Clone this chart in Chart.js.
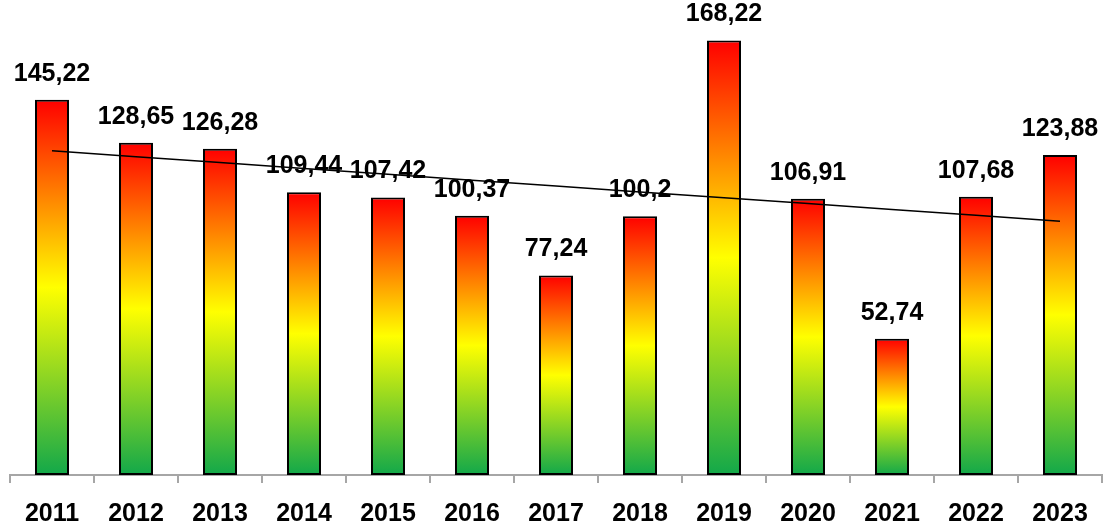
<!DOCTYPE html>
<html>
<head>
<meta charset="utf-8">
<script src="https://cdn.jsdelivr.net/npm/chart.js@4/dist/chart.umd.min.js"></script>
<style>
  html, body { margin: 0; padding: 0; background: #fff; }
</style>
</head>
<body>
<canvas id="chart" width="1110" height="525"></canvas>
<script>
// data
const years = ['2011', '2012', '2013', '2014', '2015', '2016', '2017', '2018', '2019', '2020', '2021', '2022', '2023'];
const values = [145.22, 128.65, 126.28, 109.44, 107.42, 100.37, 77.24, 100.2, 168.22, 106.91, 52.74, 107.68, 123.88];

// linear trend (least squares), like the spreadsheet trendline
function linearTrend(ys) {
    const n = ys.length;
    const mx = (n - 1) / 2;
    const my = ys.reduce((a, b) => a + b, 0) / n;
    let sxy = 0, sxx = 0;
    ys.forEach((y, i) => { sxy += (i - mx) * (y - my); sxx += (i - mx) * (i - mx); });
    const k = sxy / sxx;
    return ys.map((_, i) => my + k * (i - mx));
}
const trend = linearTrend(values);

const FONT = 'bold 25px "Liberation Sans", Arial, sans-serif';

function barGradient(context) {
    const chart = context.chart;
    if (!chart.chartArea) return '#ff0000';
    const y = chart.scales.y;
    const top = y.getPixelForValue(values[context.dataIndex]);
    const bottom = y.getPixelForValue(0);
    const g = chart.ctx.createLinearGradient(0, bottom, 0, top);
    g.addColorStop(0, '#12a84a');
    g.addColorStop(0.5, '#ffff00');
    g.addColorStop(1, '#ff0000');
    return g;
}

const valueLabels = {
    id: 'valueLabels',
    afterDatasetsDraw(chart) {
        const ctx = chart.ctx;
        const meta = chart.getDatasetMeta(0);
        ctx.save();
        ctx.font = FONT;
        ctx.fillStyle = '#000';
        ctx.textAlign = 'center';
        ctx.textBaseline = 'alphabetic';
        meta.data.forEach((bar, i) => {
            const txt = String(values[i]).replace('.', ',');
            ctx.fillText(txt, bar.x, bar.y - 19);
        });
        ctx.restore();
    }
};

new Chart(document.getElementById('chart'), {
    data: {
        labels: years,
        datasets: [
            {
                type: 'bar',
                data: values,
                backgroundColor: barGradient,
                borderColor: '#000',
                borderWidth: 2,
                borderSkipped: false,
                barPercentage: 0.405,
                categoryPercentage: 1,
                order: 2
            },
            {
                type: 'line',
                data: trend,
                borderColor: '#000',
                borderWidth: 1.5,
                pointRadius: 0,
                fill: false,
                tension: 0,
                order: 1
            }
        ]
    },
    options: {
        responsive: false,
        animation: false,
        layout: { padding: { top: 10, left: 10, right: 8, bottom: 0 } },
        plugins: { legend: { display: false }, tooltip: { enabled: false } },
        scales: {
            x: {
                offset: true,
                afterFit(scale) { scale.height = 50; },
                grid: { offset: true, drawOnChartArea: false, drawTicks: true, tickLength: 8, color: '#a6a6a6', lineWidth: 2 },
                border: { display: true, color: '#a6a6a6', width: 2 },
                ticks: { color: '#000', font: { family: '"Liberation Sans", Arial, sans-serif', size: 25, weight: 'bold', lineHeight: 1 }, padding: 19, maxRotation: 0, autoSkip: false }
            },
            y: { display: false, min: 0, max: 180 }
        }
    },
    plugins: [valueLabels]
});
</script>
</body>
</html>
